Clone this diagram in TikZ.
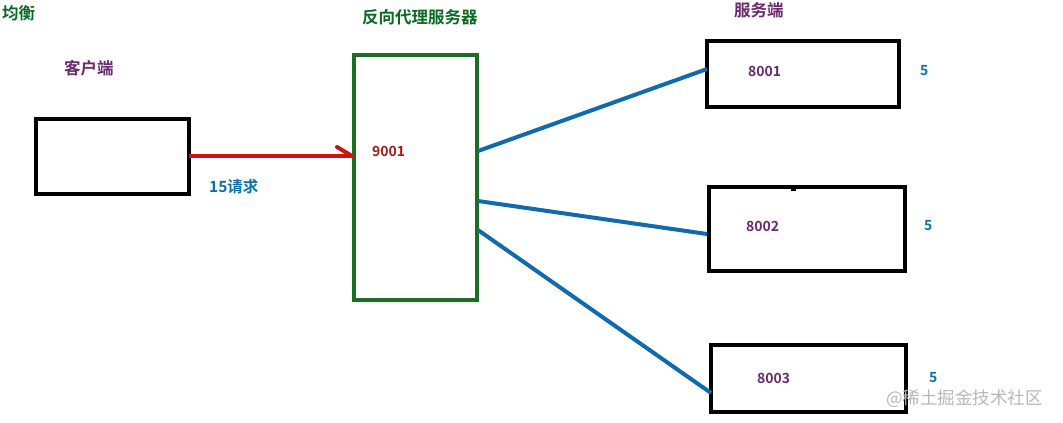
\documentclass[tikz,border=0pt]{standalone}
\usepackage{fontspec}
\newfontfamily\cjk{Noto Sans CJK SC}[BoldFont={* Bold}]
\definecolor{tgreen}{HTML}{0B6A22}
\definecolor{bgreen}{HTML}{1B6E22}
\definecolor{tpurple}{HTML}{6A2A6E}
\definecolor{lblue}{HTML}{0F6AAE}
\definecolor{tblue}{HTML}{0A72A8}
\definecolor{ared}{HTML}{CC1414}
\definecolor{tred}{HTML}{A81818}
\definecolor{wm}{HTML}{B8B8B8}
\tikzset{
  lbl/.style={font=\cjk\bfseries\fontsize{16.5}{16.5}\selectfont,inner sep=0pt},
  num/.style={font=\cjk\bfseries\fontsize{14}{14}\selectfont,inner sep=0pt},
  link/.style={draw=lblue,line width=4pt},
}
\begin{document}
\begin{tikzpicture}[x=1pt,y=-1pt]
\useasboundingbox[fill=white] (0,0) rectangle (1063,423);
% boxes
\draw[line width=4pt] (36,119) rectangle (189,194);
\coordinate (cR) at (189,156);
\draw[draw=bgreen,line width=4pt] (354,55) rectangle (477,300);
\draw[line width=4pt] (707,41) rectangle (899,107);
\draw[line width=4pt] (709,187) rectangle (905,271);
\draw[line width=4pt] (711,345) rectangle (906,412);
\fill (791,185) rectangle (796,191);
% connectors
\coordinate (pA) at (478,151);
\coordinate (pB) at (478,201);
\coordinate (pC) at (478,230);
\coordinate (s1) at (707,69);
\coordinate (s2) at (707,234);
\coordinate (s3) at (711,393);
\draw[link] (pA) -- (s1);
\draw[link] (pB) -- (s2);
\draw[link] (pC) -- (s3);
\coordinate (pL) at (352,156);
\coordinate (barb) at (337,147);
\draw[draw=ared,line width=4pt] (cR) -- (pL);
\draw[draw=ared,line width=4pt,line cap=round] (barb) -- (pL);
% labels
\node[lbl,text=tgreen,anchor=west] (t1) at (2,13) {均衡};
\node[lbl,text=tpurple,anchor=west] (t2) at (64,68) {客户端};
\node[lbl,text=tgreen,anchor=west] (t3) at (362,17) {反向代理服务器};
\node[lbl,text=tpurple,anchor=west] (t4) at (734,10) {服务端};
\node[num,text=tred,anchor=west] (n9) at (372,151) {9001};
\node[lbl,font=\cjk\bfseries\fontsize{15.5}{15.5}\selectfont,text=tblue,anchor=west] (rq) at (209,187) {15请求};
\node[num,text=tpurple,anchor=west] (n1) at (748,71) {8001};
\node[num,text=tpurple,anchor=west] (n2) at (746,226) {8002};
\node[num,text=tpurple,anchor=west] (n3) at (757,378) {8003};
\node[num,text=tblue,anchor=west] (f1) at (920,71) {5};
\node[num,text=tblue,anchor=west] (f2) at (924,226) {5};
\node[num,text=tblue,anchor=west] (f3) at (929,378) {5};
\node[font=\cjk\fontsize{17.5}{17.5}\selectfont,text=wm,anchor=west,inner sep=0pt] (wmk) at (886,399) {@稀土掘金技术社区};
\end{tikzpicture}
\end{document}
